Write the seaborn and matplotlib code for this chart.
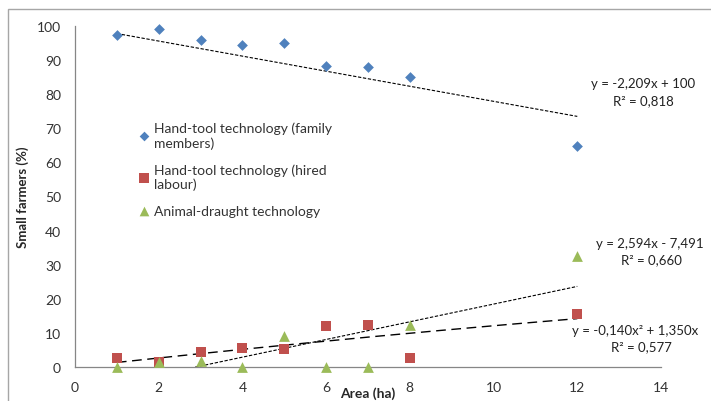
import matplotlib as mpl
mpl.use('Agg')

import matplotlib.pyplot as plt
import matplotlib.patches as mpatches
import seaborn as sns
import numpy as np

sns.set_style("white")
plt.rcParams['font.family'] = ['Lato', 'DejaVu Sans']

# data
area = [1, 2, 3, 4, 5, 6, 7, 8, 12]
family = [97.5, 99.2, 96.0, 94.5, 95.0, 88.2, 88.0, 85.0, 64.8]
hired = [2.6, 1.5, 4.5, 5.6, 5.4, 12.1, 12.3, 2.6, 15.5]
draught = [0.0, 1.4, 1.8, 0.0, 9.2, 0.0, 0.0, 12.4, 32.5]

# trendline coefficients (highest power first) as printed / as drawn
family_fit = [-2.209, 100]
draught_fit = [2.594, -7.491]
hired_fit = [-0.014, 1.350, 0.0]

blue = '#4F81BD'
red = '#C0504D'
green = '#9BBB59'

fig = plt.figure(figsize=(7.11, 4.02), dpi=100)
ax = fig.add_axes([75/711, 34/402, 586/711, 341/402])

# outer chart frame
fig.patches.append(mpatches.Rectangle((8/711, -0.05), 1.1, 1 - 10/402 + 0.05,
                                      transform=fig.transFigure, fill=False,
                                      edgecolor='#A6A6A6', lw=1.0))

xs = np.linspace(min(area), max(area), 200)
sns.lineplot(x=xs, y=np.polyval(family_fit, xs), ax=ax, color='black', lw=0.8,
             linestyle=(0, (3, 1.5)))
sns.lineplot(x=xs, y=np.polyval(draught_fit, xs), ax=ax, color='black', lw=0.8,
             linestyle=(0, (3, 1.5)))
sns.lineplot(x=xs, y=np.polyval(hired_fit, xs), ax=ax, color='black', lw=1.0,
             linestyle=(0, (7, 4)))

sns.scatterplot(x=area, y=family, ax=ax, marker='D', s=30, color=blue,
                edgecolor=blue, linewidth=0, label='Hand-tool technology (family\nmembers)',
                zorder=3, clip_on=False)
sns.scatterplot(x=area, y=hired, ax=ax, marker='s', s=60, color=red,
                edgecolor=red, linewidth=0, label='Hand-tool technology (hired\nlabour)',
                zorder=3, clip_on=False)
sns.scatterplot(x=area, y=draught, ax=ax, marker='^', s=60, color=green,
                edgecolor=green, linewidth=0, label='Animal-draught technology',
                zorder=3, clip_on=False)

ax.set_xlim(0, 14)
ax.set_ylim(0, 100)
ax.set_xticks(range(0, 15, 2))
ax.set_yticks(range(0, 101, 10))
for s in ['top', 'right']:
    ax.spines[s].set_visible(False)
for s in ['left', 'bottom']:
    ax.spines[s].set_color('#868686')
    ax.spines[s].set_linewidth(0.9)
ax.tick_params(axis='both', direction='out', length=4, width=0.8, color='#868686',
               labelsize=10, labelcolor='#333333', pad=6)
ax.tick_params(axis='x', direction='inout', pad=8)

ax.set_ylabel('Small farmers (%)', fontsize=9.5, fontweight='bold', labelpad=6)
ax.set_xlabel('Area (ha)', fontsize=10, fontweight='bold', labelpad=-5)

eq_kw = dict(fontsize=9.5, color='#222222', ha='center', va='center')
ax.text(13.57, 83.3, 'y = -2,209x + 100', clip_on=False, **eq_kw)
ax.text(13.57, 78.3, 'R² = 0,818', **eq_kw)
ax.text(13.74, 36.4, 'y = 2,594x - 7,491', clip_on=False, **eq_kw)
ax.text(13.76, 31.6, 'R² = 0,660', **eq_kw)
ax.text(11.88, 10.9, 'y = -0,140x² + 1,350x', fontsize=9.5, color='#222222',
        ha='left', va='center', clip_on=False)
ax.text(13.52, 6.2, 'R² = 0,577', **eq_kw)

ax.legend(loc='upper left', bbox_to_anchor=(0.09, 0.757), frameon=False,
          fontsize=10, handlelength=0.6, handletextpad=0.4, labelspacing=1.05,
          labelcolor='#333333', markerscale=0.9)

fig.savefig('out.png', dpi=100)
